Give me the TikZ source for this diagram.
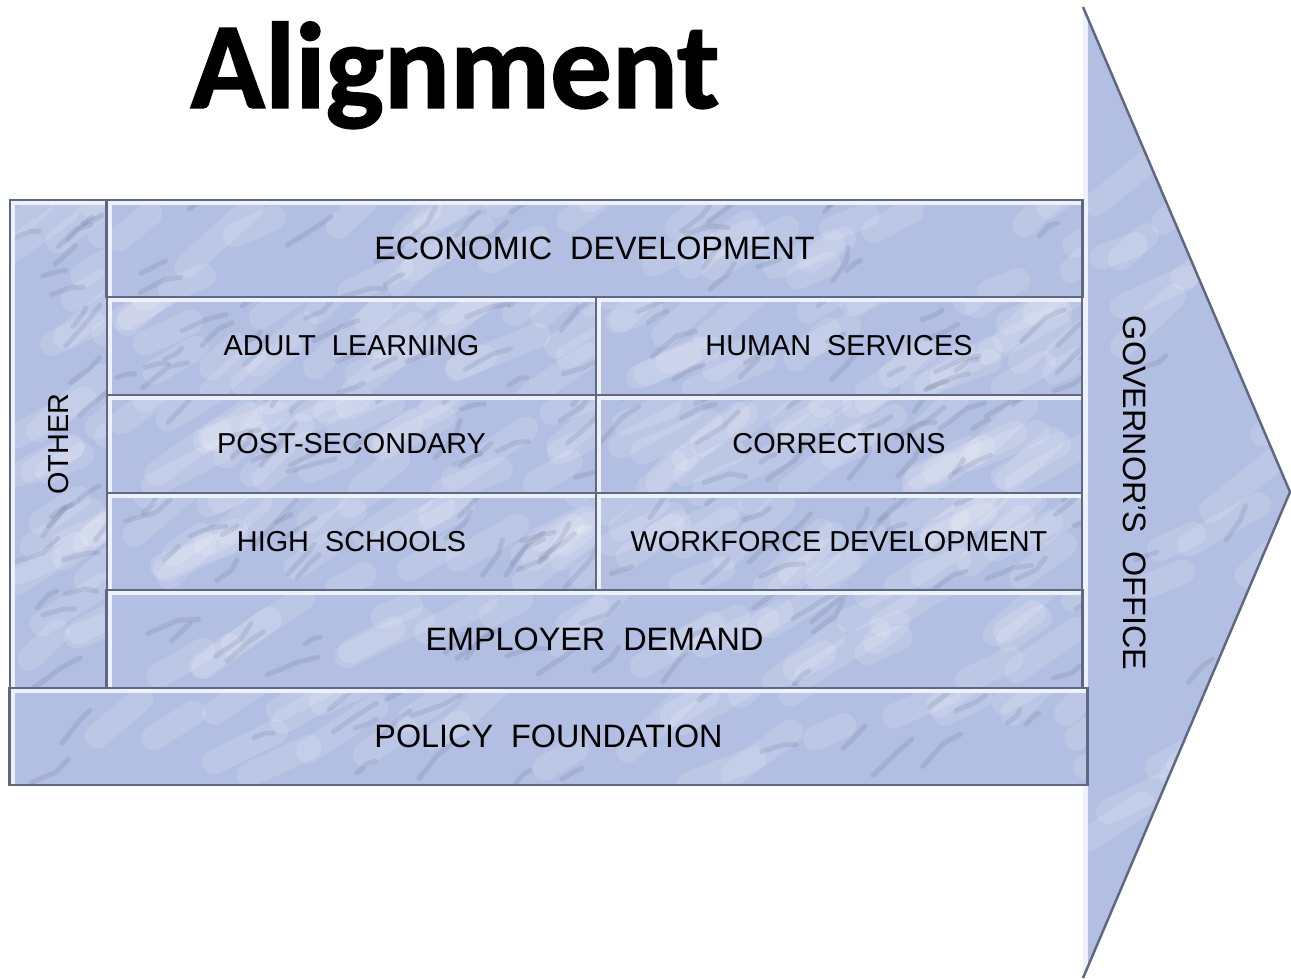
\documentclass[tikz,border=0pt]{standalone}
\usepackage{fontspec}
\usetikzlibrary{calc}
\setmainfont{Liberation Sans}
\newfontfamily\carlito{Carlito}[FakeBold=1.2]
\definecolor{marble}{RGB}{178,190,226}
\definecolor{marblelight}{RGB}{236,241,252}
\definecolor{marbleedge}{RGB}{95,104,128}
\definecolor{vein}{RGB}{110,118,150}
\newcommand{\marbletexture}{%
  \path (path picture bounding box.south west) coordinate (pSW)
        (path picture bounding box.north east) coordinate (pNE);
  \foreach \k in {1,...,30}{%
    \pgfmathsetmacro\ra{rnd}\pgfmathsetmacro\rb{rnd}%
    \pgfmathsetmacro\ang{-20-25*rnd}\pgfmathsetmacro\len{30+60*rnd}%
    \coordinate (qx) at ($(pSW)!\ra!(pSW-|pNE)$);
    \coordinate (qy) at ($(pSW)!\rb!(pSW|-pNE)$);
    \draw[white, opacity=0.14, line width=7pt, line cap=round] (qx|-qy) -- ++(\ang:\len);
  }%
  \foreach \k in {1,...,22}{%
    \pgfmathsetmacro\ra{rnd}\pgfmathsetmacro\rb{rnd}%
    \pgfmathsetmacro\ang{-15-40*rnd}\pgfmathsetmacro\len{10+25*rnd}%
    \pgfmathsetmacro\bend{60*rnd-30}%
    \coordinate (qx) at ($(pSW)!\ra!(pSW-|pNE)$);
    \coordinate (qy) at ($(pSW)!\rb!(pSW|-pNE)$);
    \draw[vein, opacity=0.2, line width=1.4pt, line cap=round, line join=round] (qx|-qy) -- ++(\ang:\len) -- ++(\ang+\bend:0.6*\len);
  }%
  \draw[marblelight, line width=3pt]
      (path picture bounding box.south west) -- (path picture bounding box.north west)
      -- (path picture bounding box.north east);
}
\tikzset{
  tile/.style={draw=marbleedge, line width=0.7pt, fill=marble, inner sep=0pt,
    font=\fontsize{8.2pt}{10pt}\selectfont,
    path picture={\marbletexture}},
  bigtext/.style={font=\fontsize{9.2pt}{11pt}\selectfont},
}
\begin{document}
\begin{tikzpicture}[x=0.01cm,y=-0.01cm]
\pgfmathsetseed{4271}
\useasboundingbox (0,0) rectangle (1291,979);
% arrow behind
\coordinate (at) at (1083,7);
\coordinate (ab) at (1083,978);
\coordinate (tip) at (1290,492);
\path[fill=marble, path picture={\marbletexture}] (at) -- (tip) -- (ab) -- cycle;
\draw[marbleedge, line width=0.7pt] (at) -- (tip) -- (ab);
\node[rotate=-90, bigtext] (gov) at (1135,493) {GOVERNOR'S\ \ OFFICE};
% title
\node[font=\carlito\bfseries\fontsize{35pt}{40pt}\selectfont, anchor=base] (title) at (455,108) {Alignment};
% tiles
\node[tile, minimum width=0.97cm, minimum height=4.88cm] (other) at (58.5,444) {};
\node[rotate=90, font=\fontsize{8.2pt}{10pt}\selectfont] (otherlbl) at (other.center) {OTHER};
\node[tile, bigtext, minimum width=9.75cm, minimum height=0.97cm] (econ) at (594.5,248.5) {ECONOMIC\ \ DEVELOPMENT};
\node[tile, minimum width=4.89cm, minimum height=0.98cm] (adult) at (351.5,346) {ADULT\ \ LEARNING};
\node[tile, minimum width=4.86cm, minimum height=0.98cm] (human) at (839,346) {HUMAN\ \ SERVICES};
\node[tile, minimum width=4.89cm, minimum height=0.98cm] (post) at (351.5,444) {POST-SECONDARY};
\node[tile, minimum width=4.86cm, minimum height=0.98cm] (corr) at (839,444) {CORRECTIONS};
\node[tile, minimum width=4.89cm, minimum height=0.97cm] (high) at (351.5,541.5) {HIGH\ \ SCHOOLS};
\node[tile, minimum width=4.86cm, minimum height=0.97cm] (work) at (839,541.5) {WORKFORCE DEVELOPMENT};
\node[tile, bigtext, minimum width=9.75cm, minimum height=0.98cm] (emp) at (594.5,639) {EMPLOYER\ \ DEMAND};
\node[tile, bigtext, minimum width=10.77cm, minimum height=0.97cm] (policy) at (548.5,736.5) {POLICY\ \ FOUNDATION};
\end{tikzpicture}
\end{document}
